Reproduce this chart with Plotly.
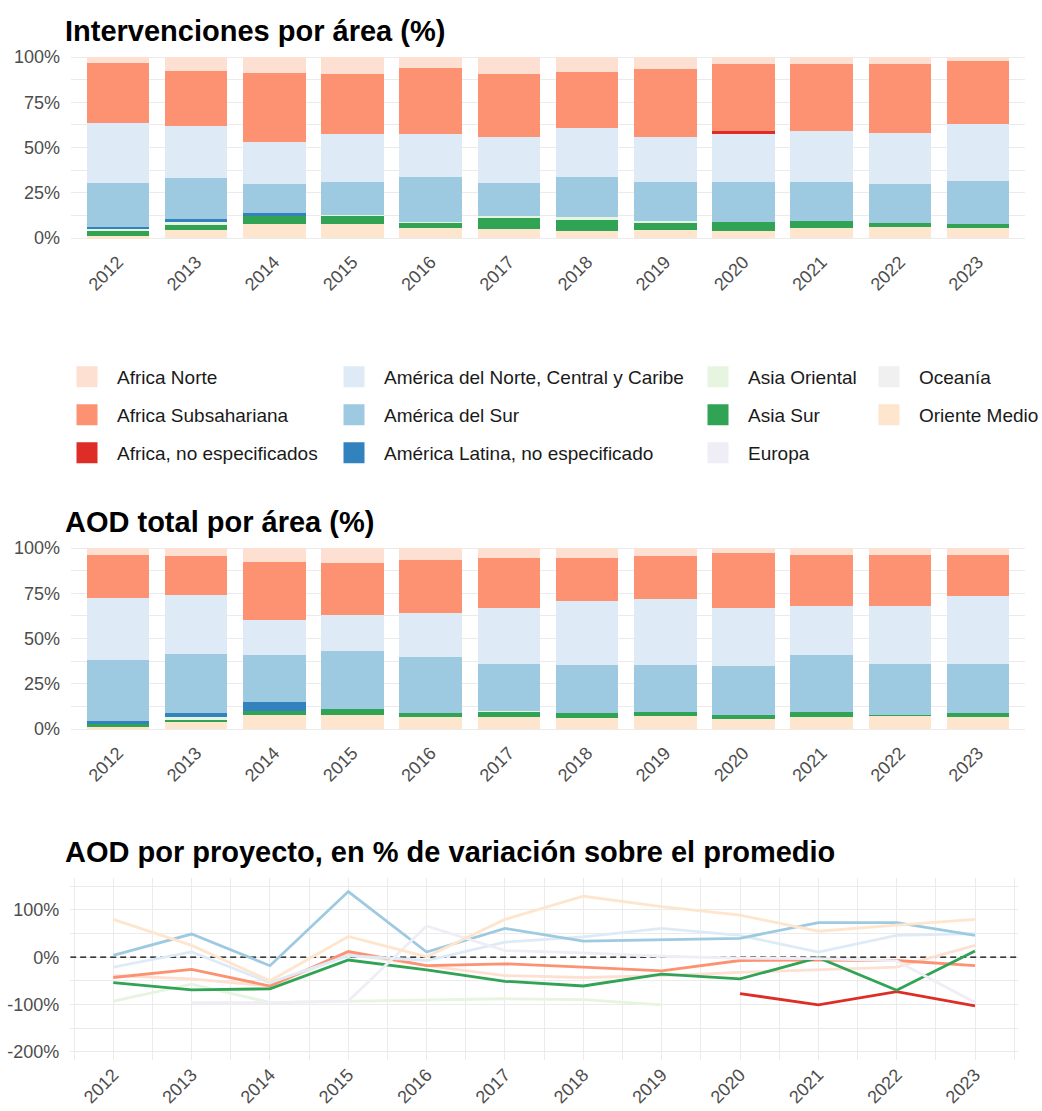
import plotly.graph_objects as go

W, H = 1042, 1111
years = [2012, 2013, 2014, 2015, 2016, 2017, 2018, 2019, 2020, 2021, 2022, 2023]
year_labels = [str(y) for y in years]

areas = ["Africa Norte", "Africa Subsahariana", "Africa, no especificados",
         "América del Norte, Central y Caribe", "América del Sur",
         "América Latina, no especificado", "Asia Oriental", "Asia Sur",
         "Europa", "Oceanía", "Oriente Medio"]
colors = ["#FEE0D2", "#FC9272", "#DE2D26", "#DEEBF7", "#9ECAE1", "#3182BD",
          "#E5F5E0", "#31A354", "#EFEDF5", "#F0F0F0", "#FEE6CE"]

# --- Intervenciones por área (%) ---
int_africa_norte = [3.5, 7.9, 8.7, 9.4, 6.1, 9.6, 8.1, 6.8, 4.1, 4.1, 4.1, 2.0]
int_africa_sub = [33.1, 30.0, 38.1, 33.3, 36.6, 34.4, 31.3, 37.2, 37.0, 36.6, 37.7, 35.2]
int_africa_ne = [0, 0, 0, 0, 0, 0, 0, 0, 1.1, 0, 0, 0]
int_am_norte = [33.2, 29.0, 23.5, 26.2, 23.6, 25.8, 26.9, 25.1, 26.9, 28.4, 28.5, 31.1]
int_am_sur = [24.1, 22.6, 16.1, 18.4, 24.7, 18.0, 21.9, 21.7, 22.2, 21.7, 21.2, 23.8]
int_am_lat = [1.1, 1.1, 0.9, 0, 0, 0, 0, 0, 0, 0, 0, 0]
int_asia_or = [0.6, 2.0, 0.5, 0.5, 0.3, 0.8, 1.9, 0.5, 0, 0, 0, 0]
int_asia_sur = [3.3, 3.0, 4.5, 4.6, 3.0, 6.4, 6.0, 4.3, 4.8, 3.5, 2.2, 2.4]
int_europa = [0, 0, 0, 0, 0, 0, 0, 0, 0, 0, 0, 0]
int_oceania = [0, 0, 0, 0, 0, 0, 0, 0, 0, 0, 0, 0]
int_oriente = [1.1, 4.4, 7.7, 7.6, 5.7, 5.0, 3.9, 4.4, 3.9, 5.7, 6.3, 5.5]

# --- AOD total por área (%) ---
aod_africa_norte = [3.9, 4.5, 7.7, 8.5, 6.4, 5.7, 5.7, 4.6, 2.9, 3.7, 3.7, 3.7]
aod_africa_sub = [23.5, 21.5, 31.9, 28.5, 29.7, 27.3, 23.8, 23.6, 30.1, 28.5, 28.5, 23.0]
aod_africa_ne = [0, 0, 0, 0, 0, 0, 0, 0, 0, 0, 0, 0]
aod_am_norte = [34.5, 32.5, 19.7, 19.9, 24.3, 31.3, 35.0, 36.3, 32.2, 26.9, 31.7, 37.2]
aod_am_sur = [33.7, 32.8, 25.6, 32.1, 30.6, 25.6, 26.8, 25.9, 27.1, 31.3, 28.1, 27.1]
aod_am_lat = [1.1, 2.3, 5.3, 0, 0, 0, 0, 0, 0, 0, 0, 0]
aod_asia_or = [0, 1.1, 0, 0, 0, 0.5, 0, 0, 0, 0, 0, 0]
aod_asia_sur = [2.4, 0.9, 2.1, 3.3, 2.6, 2.8, 2.4, 2.2, 2.2, 2.8, 0.6, 2.2]
aod_europa = [0, 0, 0, 0, 0, 0, 0, 0, 0, 0, 0, 0]
aod_oceania = [0, 0, 0, 0, 0, 0, 0, 0, 0, 0, 0, 0]
aod_oriente = [0.9, 4.4, 7.7, 7.7, 6.4, 6.8, 6.3, 7.4, 5.5, 6.8, 7.4, 6.8]

# --- AOD por proyecto, % de variación sobre el promedio ---
var_africa_norte = [-39, -46, -61, 7, -18, -39, -43, -39, -32, -27, -21, 25]
var_africa_sub = [-43, -26, -61, 12, -18, -14, -21, -29, -7, -6, -7, -18]
var_africa_ne = [None, None, None, None, None, None, None, None, -77, -101, -73, -103]
var_am_norte = [-21, 11, -54, 3, -7, 32, 43, 61, 46, 11, 46, 50]
var_am_sur = [4, 49, -18, 139, 11, 61, 34, 37, 40, 73, 73, 46]
var_am_lat = [None] * 12
var_asia_or = [-93, -57, -96, -93, -90, -88, -90, -101, None, None, None, None]
var_asia_sur = [-54, -69, -67, -6, -27, -51, -61, -36, -46, -1, -70, 13]
var_europa = [None, -96, -96, -93, 66, 14, 9, 2, -2, -3, -8, -96]
var_oceania = [None] * 12
var_oriente = [80, 25, -50, 44, 1, 80, 129, 107, 89, 55, 68, 80]

int_data = [int_africa_norte, int_africa_sub, int_africa_ne, int_am_norte, int_am_sur,
            int_am_lat, int_asia_or, int_asia_sur, int_europa, int_oceania, int_oriente]
aod_data = [aod_africa_norte, aod_africa_sub, aod_africa_ne, aod_am_norte, aod_am_sur,
            aod_am_lat, aod_asia_or, aod_asia_sur, aod_europa, aod_oceania, aod_oriente]
var_data = [var_africa_norte, var_africa_sub, var_africa_ne, var_am_norte, var_am_sur,
            var_am_lat, var_asia_or, var_asia_sur, var_europa, var_oceania, var_oriente]

FONT = "Liberation Sans, Arial, sans-serif"
GRID = "#EBEBEB"
TICK = "#4D4D4D"


def px(xp):
    return xp / W


def py(yp):
    return 1 - yp / H


fig = go.Figure()

# stacked bars: first area in list at top -> add in reverse order
for idx in reversed(range(len(areas))):
    fig.add_trace(go.Bar(x=year_labels, y=int_data[idx], marker=dict(color=colors[idx], line=dict(width=0)),
                         name=areas[idx], showlegend=False, xaxis="x", yaxis="y"))
for idx in reversed(range(len(areas))):
    fig.add_trace(go.Bar(x=year_labels, y=aod_data[idx], marker=dict(color=colors[idx], line=dict(width=0)),
                         name=areas[idx], showlegend=False, xaxis="x2", yaxis="y2"))
for idx in range(len(areas)):
    fig.add_trace(go.Scatter(x=years, y=var_data[idx], mode="lines",
                             line=dict(color=colors[idx], width=2.8),
                             name=areas[idx], showlegend=False, xaxis="x3", yaxis="y3"))

# legend: one legend per entry, laid out in 4 columns (column-major)
col_x = [57, 324, 688, 859]
row_y = [377, 415, 453]
for idx, name in enumerate(areas):
    lname = "legend" if idx == 0 else f"legend{idx + 1}"
    fig.add_trace(go.Scatter(x=[None], y=[None], mode="markers",
                             marker=dict(symbol="square", size=16, color=colors[idx],
                                         line=dict(color=colors[idx], width=5)),
                             name=name, legend=lname, showlegend=True,
                             xaxis="x3", yaxis="y3", hoverinfo="skip"))
    c, r = divmod(idx, 3)
    fig.layout[lname] = dict(x=px(col_x[c]), y=py(row_y[r]), xanchor="left", yanchor="middle",
                             bgcolor="rgba(0,0,0,0)", borderwidth=0, itemwidth=50,
                             itemsizing="trace", itemclick=False, itemdoubleclick=False,
                             font=dict(family=FONT, size=19, color="#1A1A1A"))

bar_x = [px(71), px(1025)]
tickfont = dict(family=FONT, size=18, color=TICK)

common_bar_x = dict(type="category", range=[-0.6, 11.6], showgrid=False, zeroline=False,
                    tickangle=-45, tickfont=tickfont, ticks="", showline=False, automargin=False)
common_bar_y = dict(range=[-5, 105], tickvals=[0, 25, 50, 75, 100],
                    ticktext=["0%", "25%", "50%", "75%", "100%"], showgrid=True, gridcolor=GRID,
                    gridwidth=1, minor=dict(tickvals=[12.5, 37.5, 62.5, 87.5], showgrid=True,
                                            gridcolor=GRID, gridwidth=1),
                    zeroline=False, tickfont=tickfont, ticks="", ticklabelstandoff=10,
                    automargin=False)

fig.update_layout(
    width=W, height=H, margin=dict(l=0, r=0, t=0, b=0, autoexpand=False),
    paper_bgcolor="white", plot_bgcolor="white", barmode="stack", bargap=0.2,
    font=dict(family=FONT),
    xaxis=dict(domain=bar_x, anchor="y", **common_bar_x),
    yaxis=dict(domain=[py(247.05), py(47.95)], anchor="x", **common_bar_y),
    xaxis2=dict(domain=bar_x, anchor="y2", **common_bar_x),
    yaxis2=dict(domain=[py(738.05), py(538.95)], anchor="x2", **common_bar_y),
    xaxis3=dict(domain=[px(70.2), px(1018.1)], anchor="y3", range=[2011.45, 2023.55],
                tickvals=years, ticktext=year_labels, showgrid=True, gridcolor=GRID, gridwidth=1,
                minor=dict(dtick=0.5, tick0=2011.5, showgrid=True, gridcolor=GRID, gridwidth=1),
                zeroline=False, tickangle=-45, tickfont=tickfont, ticks="", automargin=False),
    yaxis3=dict(domain=[py(1059.9), py(878.1)], anchor="x3", range=[-217.5, 167.5],
                tickvals=[-200, -100, 0, 100], ticktext=["-200%", "-100%", "0%", "100%"],
                showgrid=True, gridcolor=GRID, gridwidth=1,
                minor=dict(tickvals=[-150, -50, 50, 150], showgrid=True, gridcolor=GRID, gridwidth=1),
                zeroline=False, tickfont=tickfont, ticks="", ticklabelstandoff=10, automargin=False),
)

fig.add_shape(type="line", xref="x3", yref="y3", x0=2011.45, x1=2023.55, y0=0, y1=0,
              line=dict(color="black", width=1.2, dash="6px,4px"), layer="between")

titles = [("Intervenciones por área (%)", 31), ("AOD total por área (%)", 522),
          ("AOD por proyecto, en % de variación sobre el promedio", 852)]
for text, yy in titles:
    fig.add_annotation(text=f"<b>{text}</b>", xref="paper", yref="paper", x=px(63), y=py(yy),
                       xanchor="left", yanchor="middle", showarrow=False,
                       font=dict(family=FONT, size=29, color="black"))

fig.write_html("out.html", config={"displayModeBar": False},
               post_script="document.body.style.margin='0';document.body.style.padding='0';")
